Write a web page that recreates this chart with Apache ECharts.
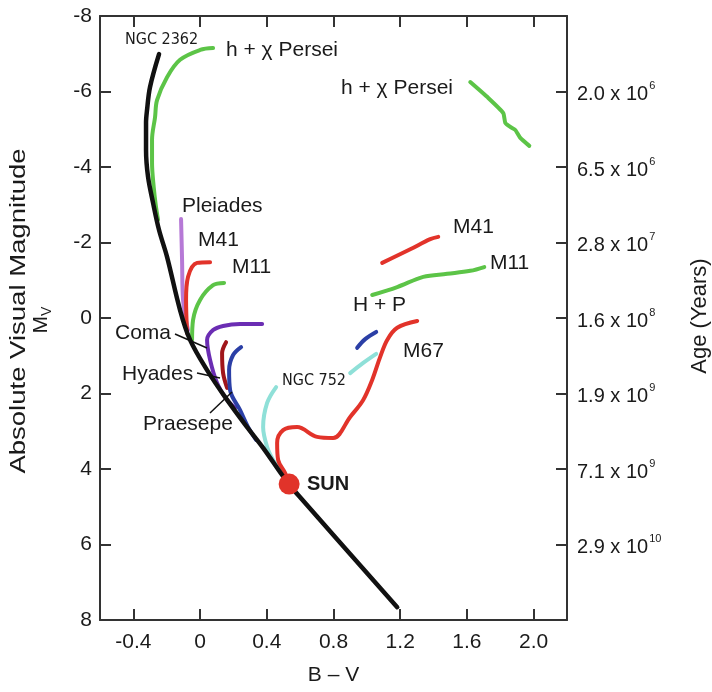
<!DOCTYPE html>
<html>
<head>
<meta charset="utf-8">
<script src="https://cdn.jsdelivr.net/npm/echarts@6/dist/echarts.min.js"></script>
<style>
html,body{margin:0;padding:0;background:#fff;}
#chart{width:712px;height:692px;}
</style>
</head>
<body>
<div id="chart"></div>
<script>
// ---- tick values and labels ----
const xTickValues = [-0.4, 0, 0.4, 0.8, 1.2, 1.6, 2.0];
const xTickLabels = ['-0.4', '0', '0.4', '0.8', '1.2', '1.6', '2.0'];
const yTickValues = [-8, -6, -4, -2, 0, 2, 4, 6, 8];
const yTickLabels = ['-8', '-6', '-4', '-2', '0', '2', '4', '6', '8'];
const ageTickValues = [-6, -4, -2, 0, 2, 4, 6];
const ageMantissa = ['2.0', '6.5', '2.8', '1.6', '1.9', '7.1', '2.9'];
const ageExponent = ['6', '6', '7', '8', '9', '9', '10'];

// ---- curves: [B-V, Mv] ----
const mainSequence = [[-0.246,-6.99],[-0.30,-6.12],[-0.318,-5.51],[-0.324,-5.17],[-0.324,-4.45],[-0.312,-3.74],[-0.282,-3.05],[-0.246,-2.33],[-0.198,-1.62],[-0.12,-0.21],[-0.06,0.58],[0.042,1.38],[0.162,2.17],[0.282,2.89],[0.378,3.44],[0.492,4.16],[0.534,4.40],[0.588,4.69],[1.182,7.66]];
const hChiPerseiMS = [[0.078,-7.15],[0.0,-7.10],[-0.12,-6.84],[-0.198,-6.38],[-0.258,-5.77],[-0.27,-5.32],[-0.288,-4.72],[-0.288,-4.11],[-0.278,-3.47],[-0.266,-3.0],[-0.252,-2.6]];
const hChiPerseiGiants = [[1.62,-6.25],[1.728,-5.83],[1.818,-5.43],[1.83,-5.17],[1.86,-5.06],[1.89,-4.98],[1.92,-4.77],[1.974,-4.56]];
const pleiades = [[-0.114,-2.62],[-0.108,-1.54],[-0.102,-0.48],[-0.072,0.32]];
const m41MS = [[0.06,-1.48],[-0.018,-1.46],[-0.072,-1.09],[-0.084,-0.48],[-0.078,0.40]];
const m41Giants = [[1.092,-1.46],[1.26,-1.82],[1.38,-2.09],[1.428,-2.15]];
const m11MS = [[0.144,-0.93],[0.078,-0.87],[0.0,-0.48],[-0.042,0.05],[-0.048,0.58]];
const m11Giants = [[1.032,-0.61],[1.182,-0.82],[1.338,-1.09],[1.482,-1.17],[1.62,-1.25],[1.704,-1.35]];
const coma = [[0.372,0.16],[0.24,0.16],[0.138,0.21],[0.078,0.32],[0.042,0.58],[0.06,1.11],[0.102,1.72],[0.162,2.17],[0.21,2.38]];
const hyades = [[0.156,0.64],[0.132,0.93],[0.138,1.46],[0.162,1.85]];
const praesepe = [[0.246,0.77],[0.198,0.98],[0.174,1.38],[0.18,1.91],[0.24,2.44],[0.288,2.89],[0.336,3.23]];
const hPlusP = [[0.942,0.79],[0.99,0.56],[1.056,0.37]];
const ngc752Lower = [[0.456,1.83],[0.402,2.25],[0.378,2.89],[0.402,3.42],[0.438,3.76],[0.492,4.11],[0.522,4.29]];
const ngc752Upper = [[0.90,1.46],[0.978,1.19],[1.056,0.95]];
const m67 = [[1.302,0.08],[1.182,0.26],[1.122,0.58],[1.08,1.03],[1.032,1.64],[0.978,2.17],[0.90,2.62],[0.798,3.18],[0.702,3.15],[0.582,2.89],[0.498,2.97],[0.462,3.31],[0.468,3.76],[0.51,4.11],[0.534,4.40]];
const sun = [[0.534, 4.40]];

// ---- styling ----
const FONT = "'Liberation Sans', Arial, Helvetica, sans-serif";
const NARROW = "'Liberation Sans Narrow', 'DejaVu Sans Condensed', 'Liberation Sans', sans-serif";
const TXT = '#1a1a1a';
const AX = '#333';
const GREEN = '#5cc447', RED = '#e2332a', BLUE = '#2b3fa6', LPURP = '#b679d6', DPURP = '#6b2db3', DRED = '#a0151b', CYAN = '#8fe0d8';

function curve(name, data, color, width, z, smooth) {
  return {
    name: name, type: 'line', data: data, showSymbol: false, symbol: 'none',
    smooth: smooth === undefined ? 0.35 : smooth, z: z || 2, silent: true,
    lineStyle: { color: color, width: width || 4, cap: 'round', join: 'round' },
    animation: false
  };
}

function lbl(text, x, y, opts) {
  opts = opts || {};
  return {
    type: 'text', x: x, y: y, z: 100,
    style: {
      text: text, fill: TXT, font: (opts.weight || 'normal') + ' ' + (opts.size || 21) + 'px ' + (opts.family || FONT),
      textAlign: opts.align || 'left', textVerticalAlign: 'middle'
    },
    rotation: opts.rotation || 0,
    scaleX: opts.scaleX || 1
  };
}
function pointer(x1, y1, x2, y2) {
  return { type: 'line', z: 99, shape: { x1: x1, y1: y1, x2: x2, y2: y2 }, style: { stroke: '#111', lineWidth: 1.5 } };
}

const chart = echarts.init(document.getElementById('chart'), null, { renderer: 'canvas' });

const axisLineStyle = { color: AX, width: 2 };
const tickStyle = { color: AX, width: 2 };

chart.setOption({
  animation: false,
  backgroundColor: '#fff',
  grid: { left: 100, right: 145, top: 16, bottom: 72, containLabel: false },
  xAxis: [
    {
      type: 'value', min: -0.6, max: 2.2, position: 'bottom',
      axisLine: { show: true, onZero: false, lineStyle: axisLineStyle },
      axisTick: { show: true, inside: true, length: 11, customValues: xTickValues, lineStyle: tickStyle },
      axisLabel: {
        customValues: xTickValues, margin: 12, color: TXT, fontSize: 21, fontFamily: FONT,
        formatter: function (v) { const i = xTickValues.findIndex(t => Math.abs(t - v) < 1e-6); return i >= 0 ? xTickLabels[i] : ''; }
      },
      splitLine: { show: false },
      name: 'B – V', nameLocation: 'middle', nameGap: 45,
      nameTextStyle: { color: TXT, fontSize: 21, fontFamily: FONT }
    },
    {
      type: 'value', min: -0.6, max: 2.2, position: 'top',
      axisLine: { show: true, onZero: false, lineStyle: axisLineStyle },
      axisTick: { show: true, inside: true, length: 11, customValues: xTickValues, lineStyle: tickStyle },
      axisLabel: { show: false },
      splitLine: { show: false }
    }
  ],
  yAxis: [
    {
      type: 'value', inverse: true, min: -8, max: 8, interval: 2, position: 'left',
      axisLine: { show: true, onZero: false, lineStyle: axisLineStyle },
      axisTick: { show: true, inside: true, length: 11, lineStyle: tickStyle },
      axisLabel: {
        margin: 8, color: TXT, fontSize: 21, fontFamily: FONT, showMinLabel: true, showMaxLabel: true,
        formatter: function (v) { const i = yTickValues.indexOf(Math.round(v)); return i >= 0 ? yTickLabels[i] : ''; }
      },
      splitLine: { show: false }
    },
    {
      type: 'value', inverse: true, min: -8, max: 8, position: 'right',
      axisLine: { show: true, onZero: false, lineStyle: axisLineStyle },
      axisTick: { show: true, inside: true, length: 11, customValues: ageTickValues, lineStyle: tickStyle },
      axisLabel: {
        customValues: ageTickValues, margin: 10, color: TXT, fontFamily: FONT,
        formatter: function (v) {
          const i = ageTickValues.indexOf(Math.round(v));
          if (i < 0) return '';
          return '{a|' + ageMantissa[i] + ' x 10}{b|' + ageExponent[i] + '}';
        },
        rich: {
          a: { fontSize: 20, fontFamily: FONT, color: TXT, lineHeight: 26, verticalAlign: 'bottom' },
          b: { fontSize: 11, fontFamily: FONT, color: TXT, lineHeight: 12, verticalAlign: 'top', padding: [2, 0, 0, 1] }
        }
      },
      splitLine: { show: false }
    }
  ],
  series: [
    curve('h + χ Persei MS', hChiPerseiMS, GREEN, 4, 3),
    curve('h + χ Persei giants', hChiPerseiGiants, GREEN, 4, 3, 0.15),
    curve('Pleiades', pleiades, LPURP, 4, 3),
    curve('M41 MS', m41MS, RED, 4, 3),
    curve('M41 giants', m41Giants, RED, 4, 3),
    curve('M11 MS', m11MS, GREEN, 4, 3),
    curve('M11 giants', m11Giants, GREEN, 4, 3),
    curve('Coma', coma, DPURP, 4, 3),
    curve('Hyades', hyades, DRED, 4, 3),
    curve('Praesepe', praesepe, BLUE, 4, 3),
    curve('H + P', hPlusP, BLUE, 4, 3),
    curve('NGC 752', ngc752Lower, CYAN, 4, 3),
    curve('NGC 752 giants', ngc752Upper, CYAN, 4, 3),
    curve('M67', m67, RED, 4, 4),
    curve('NGC 2362 / ZAMS', mainSequence, '#111', 4.5, 5),
    {
      name: 'SUN', type: 'scatter', data: sun, symbol: 'circle', symbolSize: 21, z: 10,
      itemStyle: { color: '#e1332a', opacity: 1 }, silent: true
    }
  ],
  graphic: [
    lbl('NGC 2362', 125, 40, { size: 16, family: NARROW }),
    lbl('h + χ Persei', 226, 50),
    lbl('h + χ Persei', 341, 88),
    lbl('Pleiades', 182, 206),
    lbl('M41', 198, 240),
    lbl('M11', 232, 267),
    lbl('Coma', 115, 333),
    lbl('Hyades', 122, 374),
    lbl('Praesepe', 143, 424),
    lbl('M41', 453, 227),
    lbl('M11', 490, 263),
    lbl('H + P', 353, 305),
    lbl('M67', 403, 351),
    lbl('NGC 752', 282, 381, { size: 16, family: NARROW }),
    lbl('SUN', 307, 484, { size: 20, weight: 'bold' }),
    pointer(175, 334, 207, 348),
    pointer(197, 373, 220, 378),
    pointer(210, 413, 232, 392),
    lbl('Absolute Visual Magnitude', 19, 311, { align: 'center', rotation: Math.PI / 2, size: 22, scaleX: 1.25 }),
    {
      type: 'text', x: 41, y: 320, rotation: Math.PI / 2, z: 100,
      style: {
        text: '{m|M}{s|V}', textAlign: 'center', textVerticalAlign: 'middle',
        rich: {
          m: { fontSize: 21, fontFamily: FONT, fill: TXT, color: TXT, lineHeight: 26 },
          s: { fontSize: 14, fontFamily: FONT, fill: TXT, color: TXT, lineHeight: 26, verticalAlign: 'bottom' }
        }
      }
    },
    lbl('Age (Years)', 700, 316, { align: 'center', rotation: Math.PI / 2, size: 22 })
  ]
});
</script>
</body>
</html>
